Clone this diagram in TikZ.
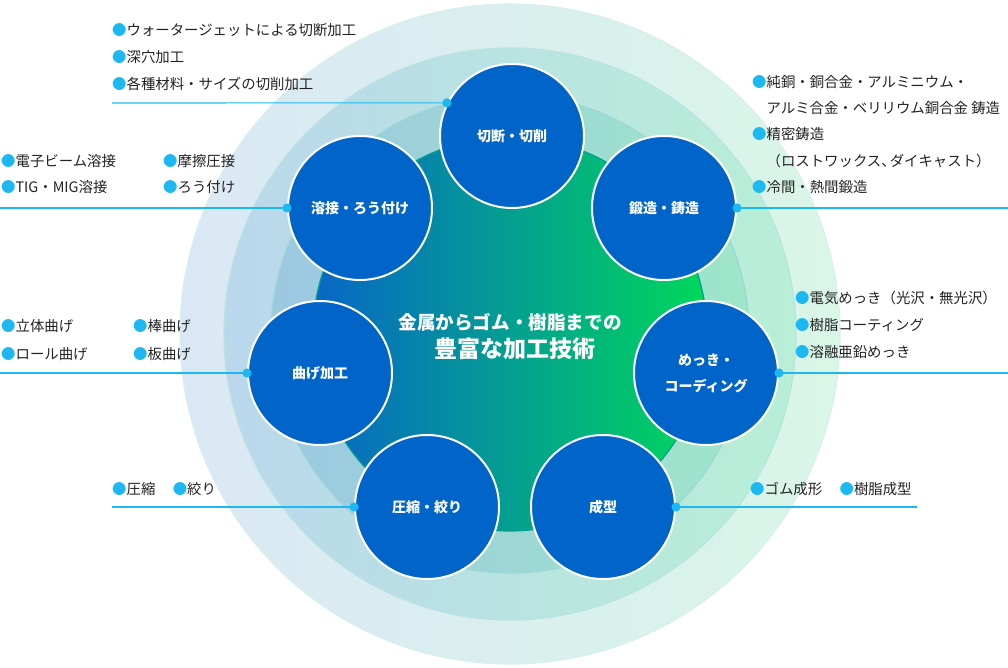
\documentclass[tikz,border=0pt]{standalone}
\usepackage{fontspec}
\setmainfont{Noto Sans CJK JP}
\usepackage{tikz}
\usetikzlibrary{positioning}
\definecolor{deepblue}{HTML}{0064C8}
\definecolor{dotblue}{HTML}{1DB8F2}
\definecolor{ink}{HTML}{222222}
\definecolor{ringAl}{HTML}{DAE8F5}
\definecolor{ringAr}{HTML}{D9F6E7}
\definecolor{ringBl}{HTML}{BAD7EC}
\definecolor{ringBr}{HTML}{B8EFD6}
\definecolor{ringCl}{HTML}{9CC8E2}
\definecolor{ringCr}{HTML}{9EE6C9}
\definecolor{coreL}{HTML}{0866C6}
\definecolor{coreR}{HTML}{00D85A}
\tikzset{
  proc/.style={circle,draw=white,line width=2pt,fill=deepblue,minimum size=144pt,inner sep=0pt,
    text=white,font=\bfseries\fontsize{14}{26}\selectfont,align=center},
  items/.style={anchor=west,inner sep=0pt,align=left,text=ink,font=\fontsize{14.4}{#1}\selectfont},
  items/.default=27pt,
  lead/.style={draw=dotblue,line width=1.1pt},
  ring/.style 2 args={left color=#1,right color=#2,draw=#1!50!#2,line width=1.2pt},
}
\newcommand{\bul}{\textcolor{dotblue}{●}}

\begin{document}
\begin{tikzpicture}[x=1pt,y=-1pt]
  \useasboundingbox (0,0) rectangle (1008,668);
  \coordinate (o) at (510,334);
  \path[ring={ringAl}{ringAr}] (o) circle (330pt);
  \path[ring={ringBl}{ringBr}] (o) circle (286pt);
  \path[ring={ringCl}{ringCr}] (o) circle (239pt);
  \path[ring={coreL}{coreR}] (o) circle (197pt);
  \node[text=white,align=center,font=\bfseries\fontsize{18.6}{28}\selectfont] (core) at (510,336)
    {金属からゴム・樹脂までの\\\hspace*{10pt}{\fontsize{23}{28}\selectfont 豊富な加工技術}};
  \node[proc] (cut) at (512,136) {切断・切削};
  \node[proc] (cast) at (664,208) {鍛造・鋳造};
  \node[proc] (plate) at (706,373) {めっき・\\コーディング};
  \node[proc] (mold) at (603,507) {成型};
  \node[proc] (press) at (427,507) {圧縮・絞り};
  \node[proc] (bend) at (320,373) {曲げ加工};
  \node[proc] (weld) at (360,208) {溶接・ろう付け};
  \coordinate (cutend) at (112,103);
  \coordinate (castend) at (1008,208);
  \coordinate (weldend) at (0,208);
  \coordinate (bendend) at (0,373);
  \coordinate (plateend) at (1008,373);
  \coordinate (pressend) at (112,507);
  \coordinate (moldend) at (917,507);
  \draw[lead] (cutend) -- (cut.153);
  \draw[lead] (cast.east) -- (castend);
  \draw[lead] (weldend) -- (weld.west);
  \draw[lead] (bendend) -- (bend.west);
  \draw[lead] (plate.east) -- (plateend);
  \draw[lead] (pressend) -- (press.west);
  \draw[lead] (mold.east) -- (moldend);
  \foreach \p in {cut.153,cast.east,weld.west,bend.west,plate.east,press.west,mold.east}
    \fill[dotblue] (\p) circle (4.6pt);
  \node[items] (cutlist) at (112,57) {\bul ウォータージェットによる切断加工\\\bul 深穴加工\\\bul 各種材料・サイズの切削加工};
  \node[items=26.3pt] (castlist) at (752,134.5) {\bul 純銅・銅合金・アルミニウム・\\\phantom{●}アルミ合金・ベリリウム銅合金 鋳造\\\bul 精密鋳造\\\phantom{●}（ロストワックス、\kern-6pt ダイキャスト）\\\bul 冷間・熱間鍛造};
  \node[items=26pt] (weldA) at (1,174) {\bul 電子ビーム溶接\\\bul TIG・MIG溶接};
  \node[items=26pt] (weldB) at (163,174) {\bul 摩擦圧接\\\bul ろう付け};
  \node[items=28pt] (bendA) at (1,340) {\bul 立体曲げ\\\bul ロール曲げ};
  \node[items=28pt] (bendB) at (133,340) {\bul 棒曲げ\\\bul 板曲げ};
  \node[items] (platelist) at (795,325) {\bul 電気めっき（光沢・無光沢）\\\bul 樹脂コーティング\\\bul 溶融亜鉛めっき};
  \node[items] (pressA) at (112,489) {\bul 圧縮};
  \node[items,right=17pt of pressA] (pressB) {\bul 絞り};
  \node[items] (moldA) at (750,489) {\bul ゴム成形};
  \node[items,right=17pt of moldA] (moldB) {\bul 樹脂成型};
\end{tikzpicture}
\end{document}
